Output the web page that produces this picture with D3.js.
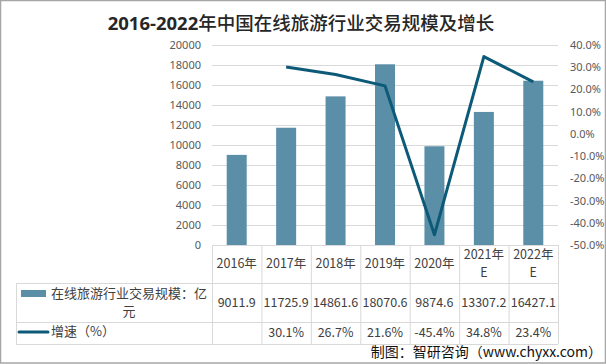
<!DOCTYPE html>
<html><head><meta charset="utf-8">
<script src="https://cdn.jsdelivr.net/npm/d3@7"></script>
<style>
html,body{margin:0;padding:0;background:#fff;}
svg{display:block;}
text{font-family:"Noto Sans CJK SC","Noto Sans",sans-serif;}
</style></head>
<body>
<svg id="c" width="606" height="364"></svg>
<script>
const categories = ["2016年","2017年","2018年","2019年","2020年","2021年\nE","2022年\nE"];
const scaleValues = [9011.9,11725.9,14861.6,18070.6,9874.6,13307.2,16427.1];
const growthValues = [null,30.1,26.7,21.6,-45.4,34.8,23.4];
const leftTicks = [0,2000,4000,6000,8000,10000,12000,14000,16000,18000,20000];
const rightTicks = [-50,-40,-30,-20,-10,0,10,20,30,40];
const seriesNames = ["在线旅游行业交易规模：亿\n元","增速（%）"];
const titleYears = "2016-2022";
const titleRest = "年中国在线旅游行业交易规模及增长";
const creditText = "制图：智研咨询（www.chyxx.com）";

const svg = d3.select("#c");
const W = 606, H = 364;
const barColor = "#5b8fa7", lineColor = "#0d5a78", gridColor = "#d9d9d9", txt = "#404040", tick = "#595959";
const plot = {l:212, r:558, t:45, b:245};

// border
svg.append("rect").attr("x",0.5).attr("y",0.5).attr("width",W-1).attr("height",H-1.5)
  .attr("fill","none").attr("stroke","#a6a6a6").attr("stroke-width",1.5);

// title
const title = svg.append("text").attr("x",301).attr("y",30).attr("text-anchor","middle")
  .attr("font-size",18.5).attr("fill","#262626");
title.append("tspan").attr("font-weight","bold").style("font-family","'Open Sans','Noto Sans',sans-serif").text(titleYears);
title.append("tspan").attr("font-weight",500).text(titleRest);

const x = d3.scaleBand().domain(categories).range([plot.l, plot.r]).paddingInner(0).paddingOuter(0);
const y = d3.scaleLinear().domain([0,20000]).range([plot.b, plot.t]);
const y2 = d3.scaleLinear().domain([-50,40]).range([plot.b, plot.t]);

// gridlines
svg.append("g").selectAll("line").data(leftTicks.filter(d=>d>0)).join("line")
  .attr("x1",plot.l).attr("x2",plot.r).attr("y1",d=>y(d)+0.5).attr("y2",d=>y(d)+0.5)
  .attr("stroke",gridColor).attr("stroke-width",1);

// left axis
const la = svg.append("g").attr("transform",`translate(${plot.l-11},0)`)
  .call(d3.axisLeft(y).tickValues(leftTicks).tickSize(0).tickPadding(0).tickFormat(d3.format("d")));
la.select(".domain").remove();
la.selectAll("text").attr("font-size",11).attr("fill",tick).style("font-family","'Noto Sans',sans-serif");

// right axis
const ra = svg.append("g").attr("transform",`translate(${plot.r+12},0)`)
  .call(d3.axisRight(y2).tickValues(rightTicks).tickSize(0).tickPadding(0).tickFormat(d=>d.toFixed(1)+"%"));
ra.select(".domain").remove();
ra.selectAll("text").attr("font-size",11).attr("fill",tick).style("font-family","'Noto Sans',sans-serif");

// bars
const bw = 20;
svg.append("g").selectAll("rect").data(scaleValues).join("rect")
  .attr("x",(d,i)=>x(categories[i])+x.bandwidth()/2-bw/2)
  .attr("width",bw)
  .attr("y",d=>y(d)).attr("height",d=>y(0)-y(d))
  .attr("fill",barColor);

// line
const pts = growthValues.map((v,i)=>({v,c:categories[i]})).filter(d=>d.v!==null);
svg.append("path").datum(pts)
  .attr("d",d3.line().x(d=>x(d.c)+x.bandwidth()/2).y(d=>y2(d.v)))
  .attr("fill","none").attr("stroke",lineColor).attr("stroke-width",3).attr("stroke-linejoin","round");

// table
const rows = {h0:245, h1:283, h2:322, h3:344};
const tl = 16;
const tg = svg.append("g").attr("stroke",gridColor).attr("stroke-width",1);
tg.append("line").attr("x1",plot.l).attr("x2",plot.r).attr("y1",rows.h0+0.5).attr("y2",rows.h0+0.5);
[rows.h1,rows.h2,rows.h3].forEach(yy=>tg.append("line").attr("x1",tl).attr("x2",plot.r).attr("y1",yy+0.5).attr("y2",yy+0.5));
tg.append("line").attr("x1",tl+0.5).attr("x2",tl+0.5).attr("y1",rows.h1).attr("y2",rows.h3);
categories.forEach((c,i)=>{
  const xx = x(c)+0.5;
  tg.append("line").attr("x1",xx).attr("x2",xx).attr("y1",rows.h0).attr("y2",rows.h3);
});
tg.append("line").attr("x1",plot.r+0.5).attr("x2",plot.r+0.5).attr("y1",rows.h0).attr("y2",rows.h3);

const tt = svg.append("g").attr("font-size",12.5).attr("fill",txt).attr("text-anchor","middle");
categories.forEach((c,i)=>{
  const cx = x(c)+x.bandwidth()/2;
  const parts = c.split("\n");
  if(parts.length===1){
    tt.append("text").attr("x",cx).attr("y",268).text(parts[0]);
  } else {
    tt.append("text").attr("x",cx).attr("y",259).text(parts[0]);
    tt.append("text").attr("x",cx).attr("y",277).text(parts[1]);
  }
  tt.append("text").attr("x",cx).attr("y",307).text(scaleValues[i].toFixed(1));
  if(growthValues[i]!==null)
    tt.append("text").attr("x",cx).attr("y",337).text(growthValues[i].toFixed(1)+"%");
});

// legend in table
svg.append("rect").attr("x",21).attr("y",290).attr("width",25).attr("height",7).attr("fill",barColor);
const n1 = seriesNames[0].split("\n");
tt.append("text").attr("x",129).attr("y",298).attr("font-size",13).text(n1[0]);
tt.append("text").attr("x",129).attr("y",316).attr("font-size",13).text(n1[1]);
svg.append("line").attr("x1",19).attr("x2",48).attr("y1",332).attr("y2",332)
  .attr("stroke",lineColor).attr("stroke-width",3).attr("stroke-linecap","round");
tt.append("text").attr("x",51).attr("y",336).attr("text-anchor","start").attr("font-size",13).text(seriesNames[1]);

// credit
svg.append("text").attr("x",602).attr("y",357).attr("text-anchor","end")
  .attr("font-size",14).attr("fill","#111").text(creditText);
</script>
</body></html>
